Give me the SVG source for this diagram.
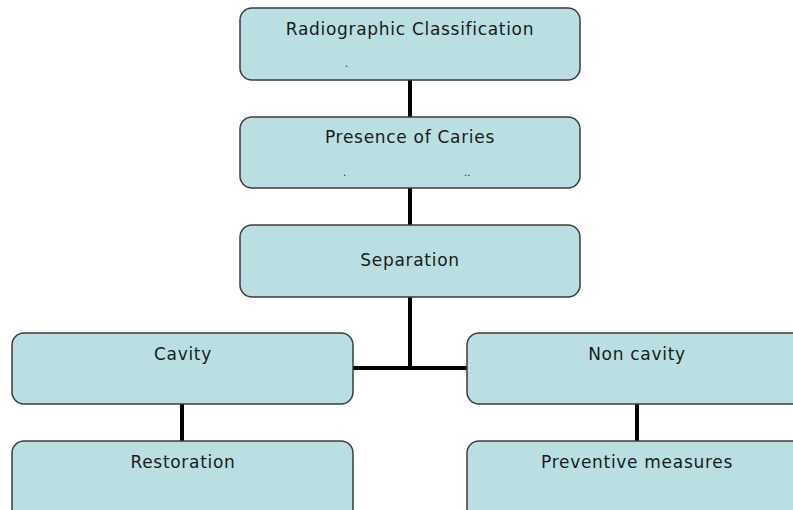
<svg xmlns="http://www.w3.org/2000/svg" width="793" height="510" viewBox="0 0 793 510">
<style>
.box{fill:#b9dfe2;stroke:#3c3c3c;stroke-width:1.5}
.lbl{font-family:"DejaVu Sans",Verdana,sans-serif;font-size:17px;letter-spacing:0.7px;fill:#1a1a1a;text-anchor:middle}
.dot{font-family:"DejaVu Sans",sans-serif;font-size:10px;fill:#1a1a1a}
.conn{stroke:#000;stroke-width:4;fill:none}
</style>
<rect width="793" height="510" fill="#fff"/>
<g id="connectors">
<line class="conn" x1="410" y1="80" x2="410" y2="117"/>
<line class="conn" x1="410" y1="188" x2="410" y2="225"/>
<line class="conn" x1="410" y1="297" x2="410" y2="368"/>
<line class="conn" x1="353" y1="368" x2="467" y2="368"/>
<line class="conn" x1="182" y1="404" x2="182" y2="441"/>
<line class="conn" x1="637" y1="404" x2="637" y2="441"/>
</g>
<g id="radiographic">
<rect class="box" x="240" y="8" width="340" height="72" rx="12"/>
<text class="lbl" x="410" y="35">Radiographic Classification</text>
<text class="dot" x="345" y="67">.</text>
</g>
<g id="presence">
<rect class="box" x="240" y="117" width="340" height="71" rx="12"/>
<text class="lbl" x="410" y="143">Presence of Caries</text>
<text class="dot" x="343" y="176">.</text>
<text class="dot" x="464" y="176">..</text>
</g>
<g id="separation">
<rect class="box" x="240" y="225" width="340" height="72" rx="12"/>
<text class="lbl" x="410" y="266">Separation</text>
</g>
<g id="cavity">
<rect class="box" x="12" y="333" width="341" height="71" rx="12"/>
<text class="lbl" x="183" y="360">Cavity</text>
</g>
<g id="noncavity">
<rect class="box" x="467" y="333" width="341" height="71" rx="12"/>
<text class="lbl" x="637" y="360">Non cavity</text>
</g>
<g id="restoration">
<rect class="box" x="12" y="441" width="341" height="80" rx="12"/>
<text class="lbl" x="183" y="468">Restoration</text>
</g>
<g id="preventive">
<rect class="box" x="467" y="441" width="341" height="80" rx="12"/>
<text class="lbl" x="637" y="468">Preventive measures</text>
</g>
</svg>
